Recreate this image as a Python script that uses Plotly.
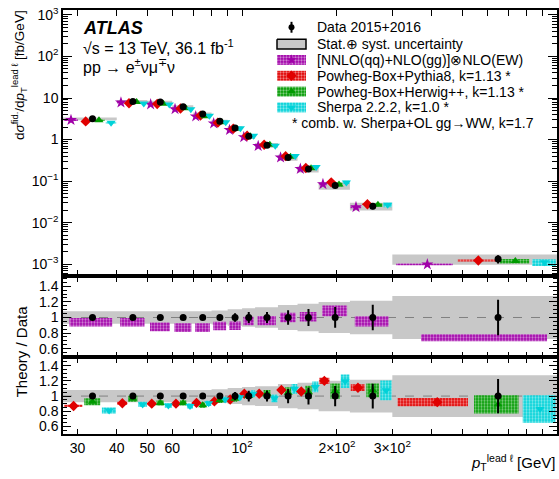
import numpy as np
import plotly.graph_objects as go

# ---------------- data ----------------
edges = [27, 40, 50, 60, 70, 80, 90, 100, 110, 130, 150, 175, 220, 300, 1000]
data_xsec = [3.15, 8.3, 8.0, 6.2, 4.15, 2.75, 1.9, 1.2, 0.73, 0.37, 0.195, 0.078, 0.025, 0.00134]
data_stat_rel = [0.01, 0.012, 0.015, 0.02, 0.025, 0.035, 0.055, 0.07, 0.07, 0.093, 0.11, 0.133, 0.163, 0.226]
data_tot_rel = [0.08, 0.08, 0.075, 0.075, 0.08, 0.09, 0.105, 0.12, 0.13, 0.16, 0.175, 0.2, 0.215, 0.275]

nnlo_ratio = [0.94, 0.94, 0.88, 0.87, 0.87, 0.89, 0.895, 0.955, 0.96, 1.0, 1.01, 1.085, 0.95, 0.74]
nnlo_unc = [0.055, 0.055, 0.055, 0.055, 0.055, 0.055, 0.055, 0.055, 0.06, 0.06, 0.06, 0.07, 0.065, 0.045]

pythia_ratio = [0.87, 0.905, 0.90, 0.90, 0.91, 0.93, 0.955, 1.03, 1.03, 1.08, 1.06, 1.20, 1.11, 0.92]
pythia_unc = [0.015, 0.02, 0.02, 0.02, 0.02, 0.02, 0.02, 0.02, 0.025, 0.025, 0.03, 0.04, 0.045, 0.055]
herwig_ratio = [0.925, 0.965, 0.91, 0.91, 0.88, 0.945, 0.965, 1.00, 1.03, 1.045, 1.05, 1.065, 1.075, 0.89]
herwig_unc = [0.045, 0.04, 0.035, 0.035, 0.035, 0.035, 0.04, 0.04, 0.05, 0.07, 0.085, 0.1, 0.09, 0.12]
sherpa_ratio = [0.81, 0.89, 0.875, 0.87, 0.905, 0.955, 0.985, 1.03, 0.97, 1.095, 1.12, 1.195, 1.075, 0.83]
sherpa_unc = [0.04, 0.035, 0.03, 0.035, 0.035, 0.035, 0.04, 0.045, 0.05, 0.065, 0.07, 0.09, 0.13, 0.18]

x_major_ticks = [30, 40, 50, 60, 100, 200, 300]
x_major_text = ["30", "40", "50", "60", "10<sup>2</sup>", "2×10<sup>2</sup>", "3×10<sup>2</sup>"]
x_minor_ticks = [70, 80, 90, 400, 500, 600, 700, 800, 900]
y_top_ticks = [1e-3, 1e-2, 1e-1, 1, 10, 100, 1000]
y_top_text = ["10<sup>−3</sup>", "10<sup>−2</sup>", "10<sup>−1</sup>", "1", "10", "10<sup>2</sup>", "10<sup>3</sup>"]
y_ratio_ticks = [0.6, 0.8, 1.0, 1.2, 1.4]
y_ratio_text = ["0.6", "0.8", "1", "1.2", "1.4"]

C_NNLO = "#a000a8"
C_PY = "#e00000"
C_HW = "#009a00"
C_SH = "#00d2d8"
C_GRAY = "#c8c8c8"

W, H = 559, 479
FONT = "Liberation Sans, Arial, Helvetica, sans-serif"

lo = np.array(edges[:-1], float)
hi = np.array(edges[1:], float)
wid = hi - lo
ctr = 0.5 * (lo + hi)
d = np.array(data_xsec)

fig = go.Figure()


def boxes(x0, x1, y0, y1, color, xa, ya, pattern=True):
    xs, ys = [], []
    for a, b, c, e in zip(x0, x1, y0, y1):
        xs += [a, b, b, a, a, None]
        ys += [c, c, e, e, c, None]
    kw = dict(x=xs, y=ys, mode="lines", fill="toself", xaxis=xa, yaxis=ya,
              line=dict(width=0, color=color), hoverinfo="skip", showlegend=False)
    if pattern:
        kw["fillcolor"] = color
        kw["fillpattern"] = dict(shape=".", fgcolor="white", bgcolor=color, size=3, solidity=0.45)
    else:
        kw["fillcolor"] = color
    return go.Scatter(**kw)


def band(rel, xa, ya):
    xs, ys = [], []
    for a, b, u in zip(lo, hi, rel):
        xs += [a, b]
        ys += [1 + u, 1 + u]
    for a, b, u in reversed(list(zip(lo, hi, rel))):
        xs += [b, a]
        ys += [1 - u, 1 - u]
    return go.Scatter(x=xs, y=ys, mode="lines", fill="toself", fillcolor=C_GRAY,
                      line=dict(width=0, color=C_GRAY), xaxis=xa, yaxis=ya,
                      hoverinfo="skip", showlegend=False)


def marks(x, y, symbol, color, size, xa, ya):
    return go.Scatter(x=x, y=y, mode="markers", xaxis=xa, yaxis=ya, showlegend=False,
                      marker=dict(symbol=symbol, color=color, size=size, line=dict(width=0)))


# ---------------- top panel ----------------
tot = np.array(data_tot_rel)
stat = np.array(data_stat_rel)
fig.add_trace(boxes(lo, hi, d * (1 - tot), d * (1 + tot), C_GRAY, "x", "y", pattern=False))

top_series = [
    (nnlo_ratio, nnlo_unc, C_NNLO, "star", 9),
    (pythia_ratio, pythia_unc, C_PY, "diamond", 8),
    (herwig_ratio, herwig_unc, C_HW, "triangle-up", 8),
    (sherpa_ratio, sherpa_unc, C_SH, "triangle-down", 8),
]
for k, (r, u, col, sym, sz) in enumerate(top_series):
    r = np.array(r); u = np.array(u)
    s0 = lo + wid * k / 4.0
    s1 = lo + wid * (k + 1) / 4.0
    m = 0.05 * (s1 - s0)
    val = d * r
    fig.add_trace(boxes(s0 + m, s1 - m, val * (1 - u), val * (1 + u), col, "x", "y"))
for k, (r, u, col, sym, sz) in enumerate(top_series):
    r = np.array(r)
    sc = lo + wid * (k + 0.5) / 4.0
    fig.add_trace(marks(sc, d * r, sym, col, sz, "x", "y"))

fig.add_trace(go.Scatter(x=ctr, y=d, mode="markers", xaxis="x", yaxis="y", showlegend=False,
                         marker=dict(symbol="circle", color="black", size=7),
                         error_y=dict(type="data", array=d * stat, thickness=2, width=0, color="black")))

# ---------------- middle panel ----------------
fig.add_trace(band(tot, "x2", "y2"))
fig.add_trace(go.Scatter(x=[edges[0], edges[-1]], y=[1, 1], mode="lines", xaxis="x2", yaxis="y2",
                         line=dict(color="#808080", width=1, dash="dash"), showlegend=False))
r = np.array(nnlo_ratio); u = np.array(nnlo_unc)
fig.add_trace(boxes(lo + 0.1 * wid, hi - 0.1 * wid, r - u, r + u, C_NNLO, "x2", "y2"))
fig.add_trace(go.Scatter(x=ctr, y=np.ones_like(ctr), mode="markers", xaxis="x2", yaxis="y2", showlegend=False,
                         marker=dict(symbol="circle", color="black", size=7),
                         error_y=dict(type="data", array=stat, thickness=2, width=0, color="black")))

# ---------------- bottom panel ----------------
fig.add_trace(band(tot, "x3", "y3"))
fig.add_trace(go.Scatter(x=[edges[0], edges[-1]], y=[1, 1], mode="lines", xaxis="x3", yaxis="y3",
                         line=dict(color="#808080", width=1, dash="dash"), showlegend=False))
bot_series = top_series[1:]
for k, (r, u, col, sym, sz) in enumerate(bot_series):
    r = np.array(r); u = np.array(u)
    s0 = lo + wid * k / 3.0
    s1 = lo + wid * (k + 1) / 3.0
    m = 0.05 * (s1 - s0)
    fig.add_trace(boxes(s0 + m, s1 - m, r - u, r + u, col, "x3", "y3"))
for k, (r, u, col, sym, sz) in enumerate(bot_series):
    sc = lo + wid * (k + 0.5) / 3.0
    fig.add_trace(marks(sc, r, sym, col, sz, "x3", "y3"))
fig.add_trace(go.Scatter(x=ctr, y=np.ones_like(ctr), mode="markers", xaxis="x3", yaxis="y3", showlegend=False,
                         marker=dict(symbol="circle", color="black", size=7),
                         error_y=dict(type="data", array=stat, thickness=2, width=0, color="black")))

# ---------------- legend (pixel overlay axis) ----------------
leg_y = [39.5, 55.5, 71.5, 87.5, 103.5]
lx0, lx1 = 277, 306
fig.add_trace(go.Scatter(x=[lx0, lx1, lx1, lx0, lx0], y=[leg_y[0] - 5, leg_y[0] - 5, leg_y[0] + 5, leg_y[0] + 5, leg_y[0] - 5],
                         mode="lines", fill="toself", fillcolor=C_GRAY, line=dict(color="black", width=1.5),
                         xaxis="x4", yaxis="y4", showlegend=False, hoverinfo="skip"))
leg_cols = [C_NNLO, C_PY, C_HW, C_SH]
leg_syms = ["star", "diamond", "triangle-up", "triangle-down"]
for yy, col, sym in zip(leg_y[1:], leg_cols, leg_syms):
    fig.add_trace(boxes([lx0], [lx1], [yy - 5], [yy + 5], col, "x4", "y4"))
    fig.add_trace(marks([0.5 * (lx0 + lx1)], [yy], sym, col, 8, "x4", "y4"))
fig.add_trace(go.Scatter(x=[291.5, 291.5], y=[17, 28], mode="lines", line=dict(color="black", width=2),
                         xaxis="x4", yaxis="y4", showlegend=False, hoverinfo="skip"))
fig.add_trace(marks([291.5], [22.5], "circle", "black", 6, "x4", "y4"))

leg_texts = ["Data 2015+2016", "Stat.⊕ syst. uncertainty", "[NNLO(qq)+NLO(gg)]⊗NLO(EW)",
             "Powheg-Box+Pythia8, k=1.13 *", "Powheg-Box+Herwig++, k=1.13 *", "Sherpa 2.2.2, k=1.0 *"]
ann = []
for yy, t in zip([22.5] + leg_y, leg_texts):
    ann.append(dict(x=315 / W, y=1 - yy / H, xref="paper", yref="paper", text=t, showarrow=False,
                    xanchor="left", yanchor="middle", font=dict(family=FONT, size=14, color="black")))
ann.append(dict(x=290 / W, y=1 - 119.5 / H, xref="paper", yref="paper",
                text="* comb. w. Sherpa+OL gg→WW, k=1.7", showarrow=False,
                xanchor="left", yanchor="middle", font=dict(family=FONT, size=14, color="black")))

# labels
ann.append(dict(x=81 / W, y=1 - 23 / H, xref="paper", yref="paper", text="<b><i>ATLAS</i></b>", showarrow=False,
                xanchor="left", yanchor="middle", font=dict(family=FONT, size=18, color="black")))
ann.append(dict(x=81 / W, y=1 - 42 / H, xref="paper", yref="paper", text="√s = 13 TeV, 36.1 fb<sup>-1</sup>",
                showarrow=False, xanchor="left", yanchor="middle", font=dict(family=FONT, size=16, color="black")))
ann.append(dict(x=81 / W, y=1 - 62 / H, xref="paper", yref="paper", text="pp → e<sup>±</sup>νμ<sup>∓</sup>ν",
                showarrow=False, xanchor="left", yanchor="middle", font=dict(family=FONT, size=16, color="black")))
ann.append(dict(x=19 / W, y=1 - 3 / H, xref="paper", yref="paper",
                text="d<i>σ</i><sup>fid.</sup>/d<i>p</i><sub>T</sub><sup>lead ℓ</sup> [fb/GeV]",
                showarrow=False, textangle=-90, xanchor="center", yanchor="top",
                font=dict(family=FONT, size=13.5, color="black")))
ann.append(dict(x=21 / W, y=1 - 350 / H, xref="paper", yref="paper", text="Theory / Data",
                showarrow=False, textangle=-90, xanchor="center", yanchor="middle",
                font=dict(family=FONT, size=15, color="black")))
ann.append(dict(x=557 / W, y=1 - 462 / H, xref="paper", yref="paper",
                text="<i>p</i><sub>T</sub><sup>lead ℓ</sup> [GeV]",
                showarrow=False, xanchor="right", yanchor="middle",
                font=dict(family=FONT, size=15, color="black")))

# ---------------- layout ----------------
x_dom = [63 / W, 557 / W]
top_dom = [1 - 274 / H, 1 - 5 / H]
mid_dom = [1 - 356 / H, 1 - 274 / H]
bot_dom = [1 - 434 / H, 1 - 356 / H]
xr = [np.log10(edges[0]), np.log10(edges[-1])]

common_x = dict(type="log", range=xr, tickmode="array", tickvals=x_major_ticks, ticktext=x_major_text,
                ticks="inside", ticklen=6, tickwidth=1, tickcolor="black", showline=True, linecolor="black",
                linewidth=1.5, mirror="allticks", showgrid=False, zeroline=False, domain=x_dom,
                tickfont=dict(family=FONT, size=14, color="black"),
                minor=dict(tickmode="array", tickvals=x_minor_ticks, ticks="inside", ticklen=6,
                           tickcolor="black", showgrid=False))

minor_log = [k * 10.0 ** n for n in range(-4, 4) for k in range(2, 10)]
ratio_y = dict(tickmode="array", tickvals=y_ratio_ticks, ticktext=y_ratio_text, ticks="inside", ticklen=8,
               tickcolor="black", showline=True, linecolor="black", linewidth=1.5, mirror="allticks",
               showgrid=False, zeroline=False, tickfont=dict(family=FONT, size=14, color="black"),
               minor=dict(dtick=0.05, ticks="inside", ticklen=4, tickcolor="black", showgrid=False))

fig.update_layout(
    width=W, height=H, margin=dict(l=0, r=0, t=0, b=0),
    paper_bgcolor="white", plot_bgcolor="rgba(0,0,0,0)", showlegend=False,
    xaxis=dict(common_x, anchor="y", showticklabels=False),
    yaxis=dict(type="log", range=[-3.286, 3.119], domain=top_dom, anchor="x", tickmode="array",
               tickvals=y_top_ticks, ticktext=y_top_text, ticks="inside", ticklen=9, tickcolor="black",
               showline=True, linecolor="black", linewidth=1.5, mirror="allticks", showgrid=False,
               zeroline=False, tickfont=dict(family=FONT, size=14, color="black"),
               minor=dict(tickmode="array", tickvals=minor_log, ticks="inside", ticklen=5,
                          tickcolor="black", showgrid=False)),
    xaxis2=dict(common_x, anchor="y2", matches="x", showticklabels=False),
    yaxis2=dict(ratio_y, range=[0.49, 1.53], domain=mid_dom, anchor="x2"),
    xaxis3=dict(common_x, anchor="y3", matches="x", showticklabels=True),
    yaxis3=dict(ratio_y, range=[0.495, 1.51], domain=bot_dom, anchor="x3"),
    xaxis4=dict(range=[0, W], domain=[0, 1], anchor="y4", visible=False, fixedrange=True),
    yaxis4=dict(range=[H, 0], domain=[0, 1], anchor="x4", visible=False, fixedrange=True),
    annotations=ann,
)

fig.write_html("out.html")
